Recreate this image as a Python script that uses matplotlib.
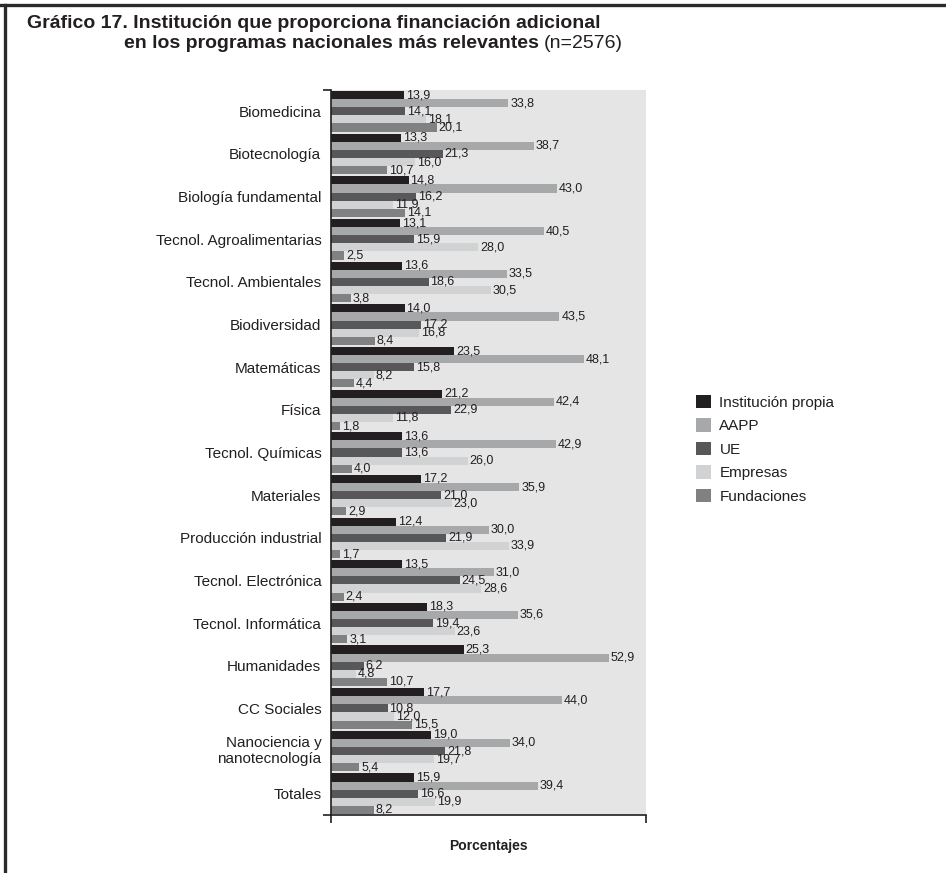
import matplotlib
matplotlib.use("Agg")
import matplotlib.pyplot as plt
from matplotlib.patches import Patch
from matplotlib.lines import Line2D
import numpy as np

plt.rcParams['font.family'] = ['Liberation Sans', 'DejaVu Sans']

categories = [
    "Biomedicina", "Biotecnología", "Biología fundamental",
    "Tecnol. Agroalimentarias", "Tecnol. Ambientales", "Biodiversidad",
    "Matemáticas", "Física", "Tecnol. Químicas", "Materiales",
    "Producción industrial", "Tecnol. Electrónica", "Tecnol. Informática",
    "Humanidades", "CC Sociales", "Nanociencia y\nnanotecnología", "Totales",
]

institucion_propia = [13.9, 13.3, 14.8, 13.1, 13.6, 14.0, 23.5, 21.2, 13.6,
                      17.2, 12.4, 13.5, 18.3, 25.3, 17.7, 19.0, 15.9]
aapp = [33.8, 38.7, 43.0, 40.5, 33.5, 43.5, 48.1, 42.4, 42.9,
        35.9, 30.0, 31.0, 35.6, 52.9, 44.0, 34.0, 39.4]
ue = [14.1, 21.3, 16.2, 15.9, 18.6, 17.2, 15.8, 22.9, 13.6,
      21.0, 21.9, 24.5, 19.4, 6.2, 10.8, 21.8, 16.6]
empresas = [18.1, 16.0, 11.9, 28.0, 30.5, 16.8, 8.2, 11.8, 26.0,
            23.0, 33.9, 28.6, 23.6, 4.8, 12.0, 19.7, 19.9]
fundaciones = [20.1, 10.7, 14.1, 2.5, 3.8, 8.4, 4.4, 1.8, 4.0,
               2.9, 1.7, 2.4, 3.1, 10.7, 15.5, 5.4, 8.2]

series_names = ["Institución propia", "AAPP", "UE", "Empresas", "Fundaciones"]
series_values = [institucion_propia, aapp, ue, empresas, fundaciones]
colors = ["#231f20", "#a7a8aa", "#58585a", "#d1d2d3", "#808183"]

W, H = 946, 873
fig = plt.figure(figsize=(W / 100, H / 100), dpi=100)

ax_left, ax_right, ax_top, ax_bottom = 331, 646, 90, 815
ax = fig.add_axes([ax_left / W, 1 - ax_bottom / H,
                   (ax_right - ax_left) / W, (ax_bottom - ax_top) / H])
ax.set_facecolor("#e5e5e6")

n = len(categories)
y = np.arange(n)
bar_h = 0.19
for j, (vals, col) in enumerate(zip(series_values, colors)):
    pos = y + (j - 2) * bar_h
    ax.barh(pos, vals, height=bar_h, color=col, edgecolor="none", zorder=2)
    for p, v in zip(pos, vals):
        ax.text(v + 0.35, p, f"{v:.1f}".replace(".", ","), va="center",
                ha="left", fontsize=9, color="#231f20", zorder=3)

ax.set_xlim(0, 60)
ax.set_ylim(n - 0.5, -0.5)

ax.set_yticks(y)
ax.set_yticklabels(categories, fontsize=11, color="#231f20",
                   multialignment="right", linespacing=1.2)
for lbl in ax.get_yticklabels():
    if "\n" in lbl.get_text():
        lbl.set_verticalalignment("center")
ax.tick_params(axis="y", which="major", length=0, pad=7)
ax.set_yticks([-0.5, n - 0.5], minor=True)
ax.tick_params(axis="y", which="minor", length=6, width=1.2,
               direction="out", color="#231f20")

ax.set_xticks([0, 60])
ax.set_xticklabels([])
ax.tick_params(axis="x", which="major", length=5.5, width=1.2,
               direction="out", color="#231f20")

for side in ("top", "right"):
    ax.spines[side].set_visible(False)
for side in ("left", "bottom"):
    ax.spines[side].set_color("#231f20")
    ax.spines[side].set_linewidth(1.2)

# legend on the right
handles = [Patch(facecolor=c, edgecolor="none", label=s)
           for s, c in zip(series_names, colors)]
fig.legend(handles=handles, loc="upper left",
           bbox_to_anchor=(682 / W, 1 - 381 / H), frameon=False,
           fontsize=11, handlelength=1.0, handleheight=1.0,
           handletextpad=0.55, labelspacing=0.55, labelcolor="#231f20")

# axis title
fig.text(488 / W, 1 - 846 / H, "Porcentajes", ha="center", va="center",
         fontsize=10, fontweight="bold", color="#231f20")

# chart title (two lines, second ends with a regular-weight note)
fig.text(27 / W, 1 - 23 / H,
         "Gráfico 17. Institución que proporciona financiación adicional",
         ha="left", va="center", fontsize=14, fontweight="bold",
         color="#231f20")
t2 = fig.text(124 / W, 1 - 43 / H,
              "en los programas nacionales más relevantes",
              ha="left", va="center", fontsize=14, fontweight="bold",
              color="#231f20")
renderer = fig.canvas.get_renderer()
bb = t2.get_window_extent(renderer=renderer)
fig.text(bb.x1 / W + 5 / W, 1 - 43 / H, "(n=2576)", ha="left", va="center",
         fontsize=14, color="#231f20")

# outer frame lines at top and left
fig.add_artist(Line2D([0, 1], [1 - 5 / H, 1 - 5 / H], transform=fig.transFigure,
                      color="#2b2b2b", linewidth=2.4))
fig.add_artist(Line2D([4.5 / W, 4.5 / W], [0, 1 - 5 / H],
                      transform=fig.transFigure, color="#2b2b2b",
                      linewidth=2.4))

fig.savefig("out.png", dpi=100, facecolor="white")
